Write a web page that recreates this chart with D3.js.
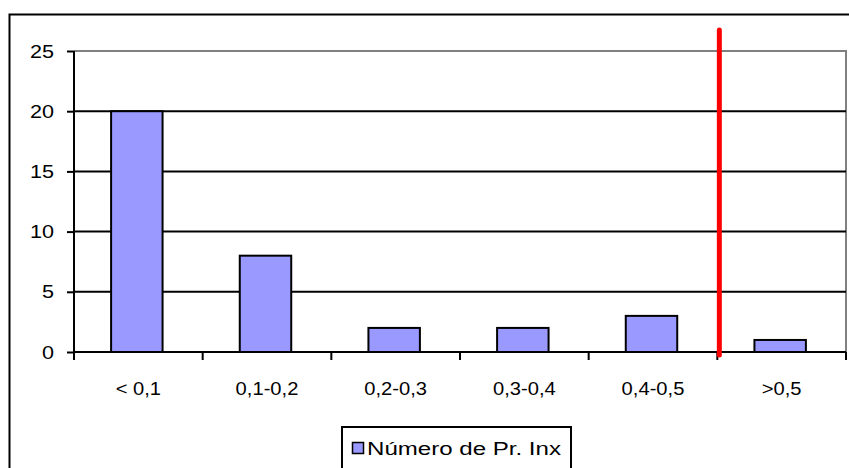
<!DOCTYPE html>
<html><head><meta charset="utf-8">
<script src="https://cdn.jsdelivr.net/npm/d3@7"></script>
<style>
html,body{margin:0;padding:0;background:#fff;}
text{font-family:"Liberation Sans",Arial,sans-serif;fill:#000;}
</style></head>
<body>
<svg id="chart" width="849" height="468"></svg>
<script>
const categories = ["< 0,1", "0,1-0,2", "0,2-0,3", "0,3-0,4", "0,4-0,5", ">0,5"];
const values = [20, 8, 2, 2, 3, 1];
const yTicks = [0, 5, 10, 15, 20, 25];
const seriesName = "Número de Pr. Inx";
const thresholdBoundary = 5; // red line between "0,4-0,5" and ">0,5"

const svg = d3.select("#chart");
const L = 74, R = 846, T = 51, B = 352;

// outer chart border
svg.append("rect").attr("x", 9.5).attr("y", 14.5).attr("width", 900).attr("height", 500)
  .attr("fill", "#fff").attr("stroke", "#000").attr("stroke-width", 2);

const y = d3.scaleLinear().domain([0, 25]).range([B, T]);
const x = d3.scaleBand().domain(categories).range([L, R]).paddingInner(0.6).paddingOuter(0.3);
const xb = d3.scaleLinear().domain([0, categories.length]).range([L, R]);

// plot area frame (top and right gray)
svg.append("path").attr("d", `M${L},${T}H${R}V${B}`).attr("fill", "none")
  .attr("stroke", "#808080").attr("stroke-width", 2);

// gridlines
svg.append("g").selectAll("line").data(yTicks.filter(t => t > 0 && t < 25)).join("line")
  .attr("x1", L).attr("x2", R).attr("y1", d => y(d)).attr("y2", d => y(d))
  .attr("stroke", "#000").attr("stroke-width", 2);

// bars
svg.append("g").selectAll("rect").data(values).join("rect")
  .attr("x", (d, i) => x(categories[i]) - 1.5).attr("width", x.bandwidth())
  .attr("y", d => y(d)).attr("height", d => y(0) - y(d))
  .attr("fill", "#9999FF").attr("stroke", "#000").attr("stroke-width", 2);

// y axis
const yAxis = svg.append("g").attr("transform", `translate(${L},0)`)
  .call(d3.axisLeft(y).tickValues(yTicks).tickSize(7).tickPadding(0).tickFormat(d3.format("d")));
yAxis.select(".domain").remove();
yAxis.selectAll(".tick line").attr("stroke", "#000").attr("stroke-width", 2);
yAxis.selectAll(".tick text").remove();
yAxis.append("line").attr("x1", 0).attr("x2", 0).attr("y1", T).attr("y2", B + 8)
  .attr("stroke", "#000").attr("stroke-width", 2);
svg.append("g").selectAll("text").data(yTicks).join("text")
  .attr("transform", d => `translate(54,${y(d) + 6.5}) scale(1.2,1)`)
  .attr("text-anchor", "end").attr("font-size", 18).text(d => d);

// x axis
svg.append("line").attr("x1", L).attr("x2", R).attr("y1", B).attr("y2", B)
  .attr("stroke", "#000").attr("stroke-width", 2);
svg.append("g").selectAll("line").data(d3.range(categories.length + 1)).join("line")
  .attr("x1", d => xb(d)).attr("x2", d => xb(d)).attr("y1", B).attr("y2", B + 8)
  .attr("stroke", "#000").attr("stroke-width", 2);
svg.append("g").selectAll("text").data(categories).join("text")
  .attr("transform", d => `translate(${x(d) + x.bandwidth() / 2},395) scale(1.12,1)`)
  .attr("text-anchor", "middle").attr("font-size", 18).text(d => d);

// red threshold line
svg.append("line").attr("x1", xb(thresholdBoundary) + 2).attr("x2", xb(thresholdBoundary) + 2)
  .attr("y1", 30).attr("y2", 355)
  .attr("stroke", "#ff0000").attr("stroke-width", 5).attr("stroke-linecap", "round");

// legend
const lg = svg.append("g");
lg.append("rect").attr("x", 342).attr("y", 427).attr("width", 229).attr("height", 50)
  .attr("fill", "#fff").attr("stroke", "#000").attr("stroke-width", 2);
lg.append("rect").attr("x", 352.5).attr("y", 442.5).attr("width", 11).attr("height", 11)
  .attr("fill", "#9999FF").attr("stroke", "#000").attr("stroke-width", 1.5);
lg.append("text").attr("x", 367).attr("y", 455).attr("font-size", 18)
  .attr("textLength", 194).attr("lengthAdjust", "spacingAndGlyphs").text(seriesName);
</script>
</body></html>
